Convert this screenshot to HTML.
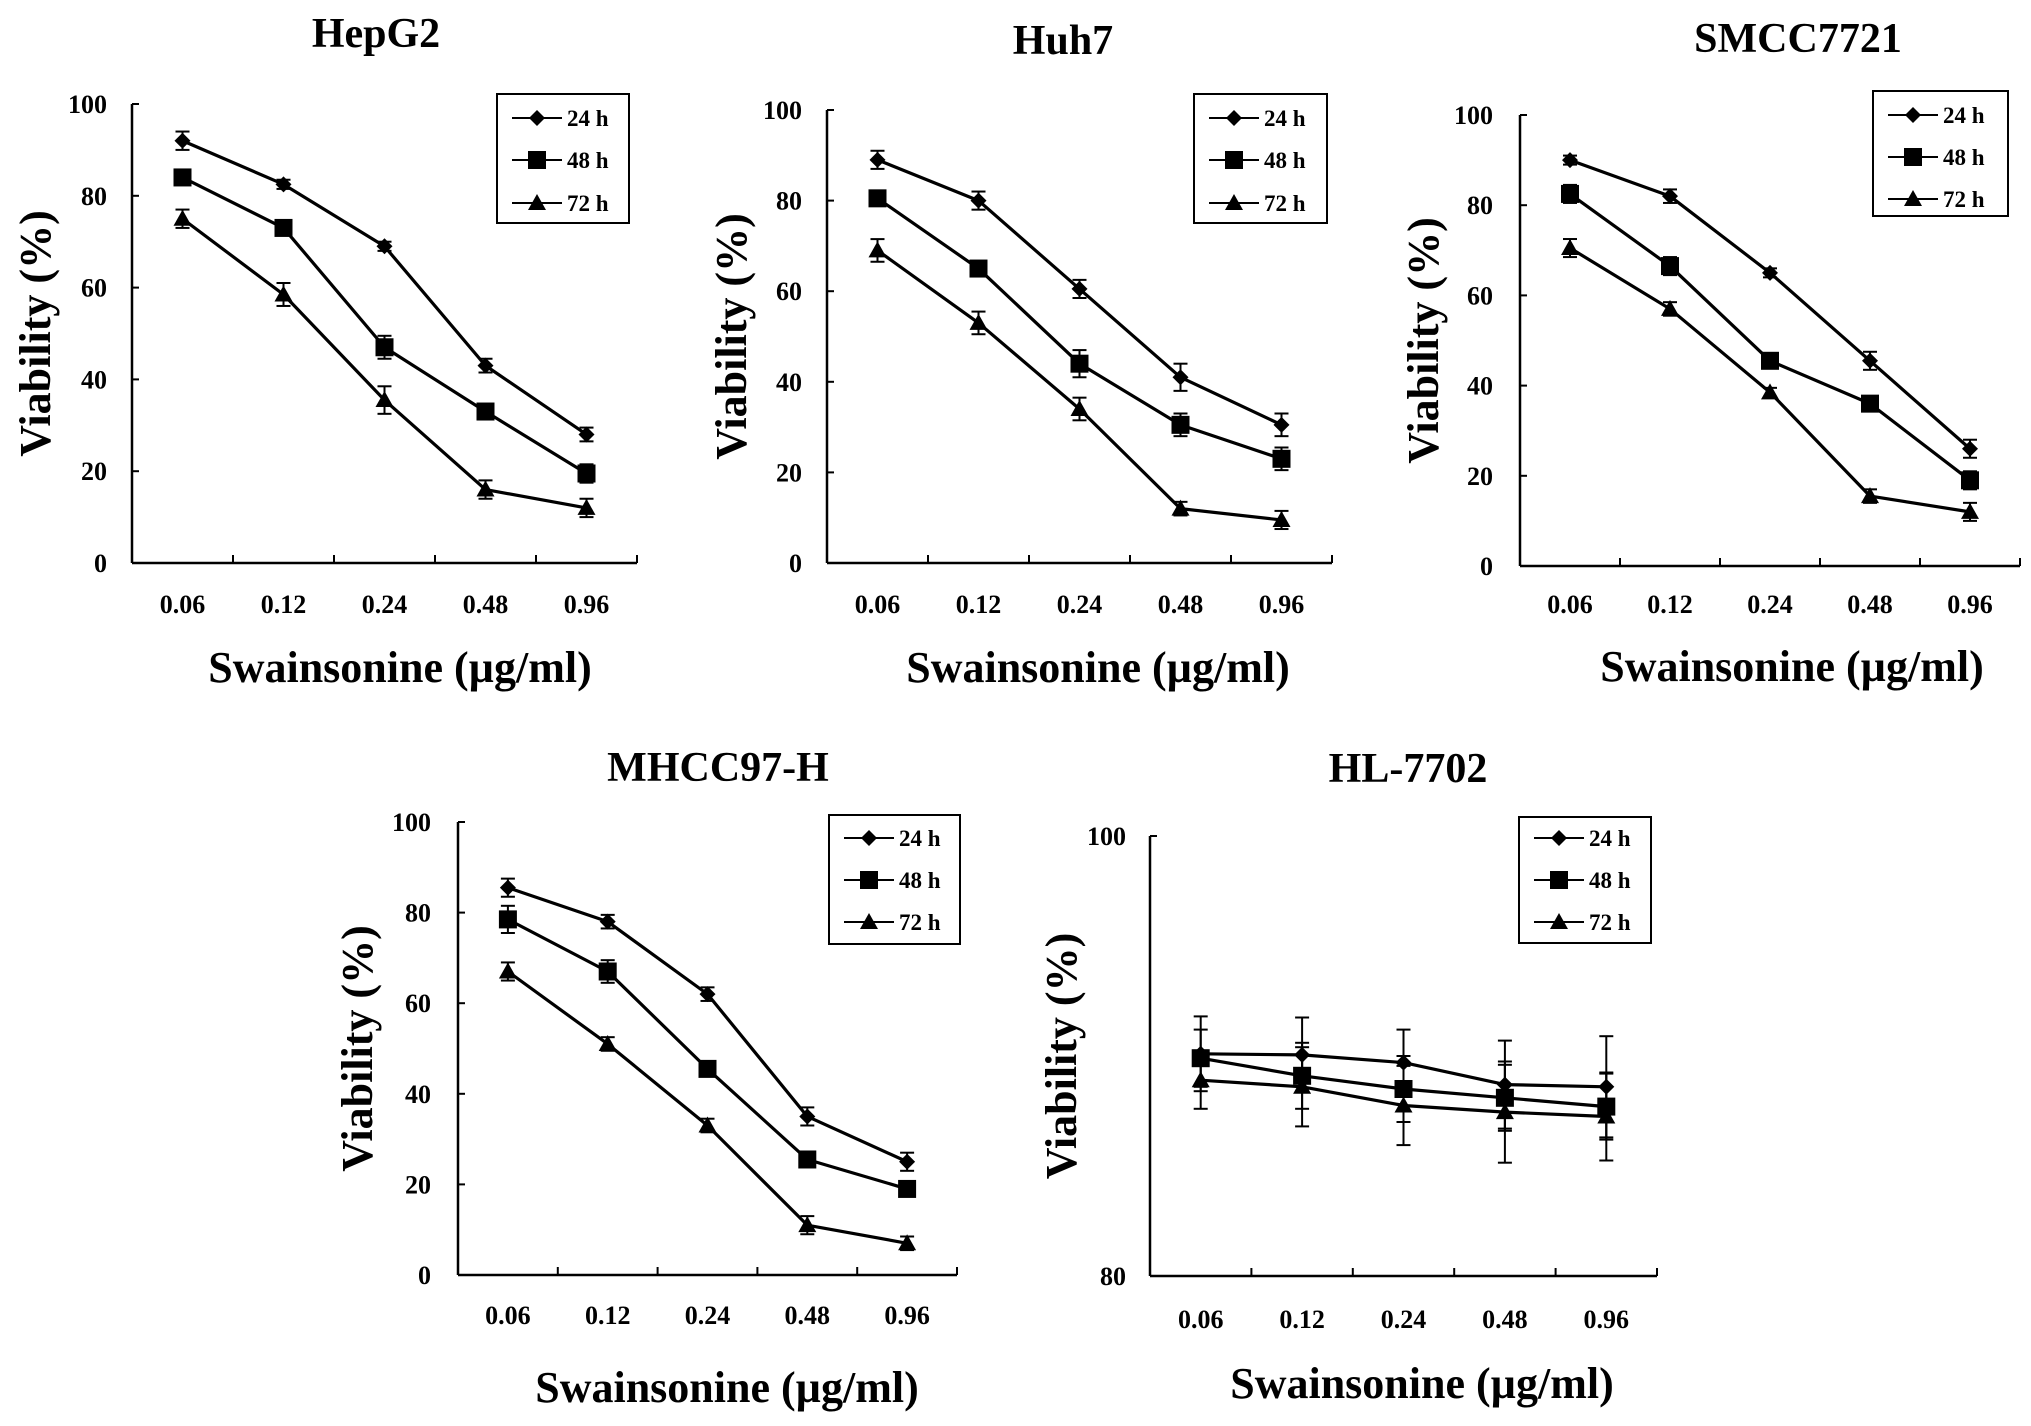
<!DOCTYPE html>
<html><head><meta charset="utf-8"><style>
html,body{margin:0;padding:0;background:#fff;}
svg{display:block;font-family:"Liberation Serif",serif;font-weight:bold;}
</style></head><body>
<svg id="fig" width="2031" height="1426" viewBox="0 0 2031 1426" xmlns="http://www.w3.org/2000/svg"></svg>
<script>
const categories = ["0.06","0.12","0.24","0.48","0.96"];
const seriesNames = ["24 h","48 h","72 h"];
const hepg2_24 = [92, 82.5, 69, 43, 28];
const hepg2_48 = [84, 73, 47, 33, 19.5];
const hepg2_72 = [75, 58.5, 35.5, 16, 12];
const hepg2_err24 = [2, 1, 1, 1.5, 1.5];
const hepg2_err48 = [1, 1, 2.5, 1, 2];
const hepg2_err72 = [2, 2.5, 3, 2, 2];
const huh7_24 = [89, 80, 60.5, 41, 30.5];
const huh7_48 = [80.5, 65, 44, 30.5, 23];
const huh7_72 = [69, 53, 34, 12, 9.5];
const huh7_err24 = [2, 2, 2, 3, 2.5];
const huh7_err48 = [1, 1, 3, 2.5, 2.5];
const huh7_err72 = [2.5, 2.5, 2.5, 1.5, 2];
const smcc_24 = [90, 82, 65, 45.5, 26];
const smcc_48 = [82.5, 66.5, 45.5, 36, 19];
const smcc_72 = [70.5, 57, 38.5, 15.5, 12];
const smcc_err24 = [1, 1.5, 1, 2, 2];
const smcc_err48 = [2, 2, 1.5, 1.5, 2];
const smcc_err72 = [2, 1.5, 1, 1.5, 2];
const mhcc_24 = [85.5, 78, 62, 35, 25];
const mhcc_48 = [78.5, 67, 45.5, 25.5, 19];
const mhcc_72 = [67, 51, 33, 11, 7];
const mhcc_err24 = [2, 1.5, 1.5, 2, 2];
const mhcc_err48 = [3, 2.5, 1, 1, 1.5];
const mhcc_err72 = [2, 1.5, 1.5, 2, 1.5];
const hl_24 = [90.1, 90.05, 89.7, 88.7, 88.6];
const hl_48 = [89.9, 89.1, 88.5, 88.1, 87.7];
const hl_72 = [88.9, 88.6, 87.75, 87.45, 87.25];
const hl_err24 = [1.7, 1.7, 1.5, 2.0, 2.3];
const hl_err48 = [1.3, 1.5, 1.5, 1.5, 1.5];
const hl_err72 = [1.3, 1.8, 1.8, 2.3, 2.0];
const ticks0to100 = [0, 20, 40, 60, 80, 100];
const ticks80to100 = [80, 100];

const panels = [
 {name:"hepg2",title:"HepG2",ax:132,ay0:563,ay1:104,axe:637,ymin:0,ymax:100,ticks:ticks0to100,tx:376,ty:47,lg:[497,94,132,129],le:[118,160,203],tickR:107,xlb:613,atb:682,atx:400,ytx:35,data:[hepg2_24,hepg2_48,hepg2_72],err:[hepg2_err24,hepg2_err48,hepg2_err72]},
 {name:"huh7",title:"Huh7",ax:827,ay0:563,ay1:110,axe:1332,ymin:0,ymax:100,ticks:ticks0to100,tx:1063,ty:54,lg:[1194,94,133,129],le:[118,160,203],tickR:802,xlb:613,atb:682,atx:1098,ytx:731,data:[huh7_24,huh7_48,huh7_72],err:[huh7_err24,huh7_err48,huh7_err72]},
 {name:"smcc7721",title:"SMCC7721",ax:1520,ay0:566,ay1:115,axe:2020,ymin:0,ymax:100,ticks:ticks0to100,tx:1798,ty:52,lg:[1873,91,135,125],le:[115,157,199],tickR:1493,xlb:613,atb:681,atx:1792,ytx:1423,data:[smcc_24,smcc_48,smcc_72],err:[smcc_err24,smcc_err48,smcc_err72]},
 {name:"mhcc97h",title:"MHCC97-H",ax:458,ay0:1275,ay1:822,axe:957,ymin:0,ymax:100,ticks:ticks0to100,tx:718,ty:781,lg:[829,815,131,129],le:[838,880,922],tickR:431,xlb:1324,atb:1402,atx:727,ytx:357,data:[mhcc_24,mhcc_48,mhcc_72],err:[mhcc_err24,mhcc_err48,mhcc_err72]},
 {name:"hl7702",title:"HL-7702",ax:1150,ay0:1276,ay1:836,axe:1657,ymin:80,ymax:100,ticks:ticks80to100,tx:1408,ty:782,lg:[1519,817,132,126],le:[838,880,922],tickR:1126,xlb:1328,atb:1398,atx:1422,ytx:1061,data:[hl_24,hl_48,hl_72],err:[hl_err24,hl_err48,hl_err72]}
];

const svg = document.getElementById('fig');
const NS = "http://www.w3.org/2000/svg";
function mk(tag, attrs, parent){
  const e = document.createElementNS(NS, tag);
  for (const k in attrs) e.setAttribute(k, attrs[k]);
  parent.appendChild(e);
  return e;
}
function marker(kind, x, y, parent){
  let m;
  if (kind === 0){
    m = mk('polygon',{points:`${x},${y-8} ${x+8},${y} ${x},${y+8} ${x-8},${y}`,fill:'#000'},parent);
  } else if (kind === 1){
    m = mk('rect',{x:x-9,y:y-9,width:18,height:18,fill:'#000'},parent);
  } else {
    m = mk('polygon',{points:`${x},${y-9} ${x+9},${y+7} ${x-9},${y+7}`,fill:'#000'},parent);
  }
  return m;
}

panels.forEach(p => {
  const g = mk('g',{},svg);
  
  
  const yS = v => p.ay0 - (v - p.ymin) / (p.ymax - p.ymin) * (p.ay0 - p.ay1);
  const bw = (p.axe - p.ax) / categories.length;
  const xS = i => p.ax + bw * (i + 0.5);

  const t = mk('text',{x:p.tx,y:p.ty,'text-anchor':'middle','font-size':42},g);
  t.textContent = p.title;
  
  

  const yax = mk('line',{x1:p.ax,y1:p.ay1,x2:p.ax,y2:p.ay0,stroke:'#000','stroke-width':2.5},g);
  
  
  const xax = mk('line',{x1:p.ax,y1:p.ay0,x2:p.axe,y2:p.ay0,stroke:'#000','stroke-width':2.5},g);
  
  

  p.ticks.forEach(v => {
    const y = yS(v);
    mk('line',{x1:p.ax,y1:y,x2:p.ax+7,y2:y,stroke:'#000','stroke-width':2},g);
    const tl = mk('text',{x:p.tickR,y:y+9,'text-anchor':'end','font-size':26},g);
    tl.textContent = v;
    
    
  });
  for (let i = 1; i <= categories.length; i++){
    const x = p.ax + bw * i;
    mk('line',{x1:x,y1:p.ay0,x2:x,y2:p.ay0-8,stroke:'#000','stroke-width':2},g);
  }
  categories.forEach((c,i) => {
    const tl = mk('text',{x:xS(i),y:p.xlb,'text-anchor':'middle','font-size':26},g);
    tl.textContent = c;
    
    
  });
  const xt = mk('text',{x:p.atx,y:p.atb,'text-anchor':'middle','font-size':44},g);
  xt.textContent = 'Swainsonine (µg/ml)';
  
  
  const ymid = (p.ay0 + p.ay1) / 2;
  const yt = mk('text',{x:p.ytx,y:ymid,'text-anchor':'middle','font-size':44,transform:`rotate(-90 ${p.ytx} ${ymid}) translate(0 15)`},g);
  yt.textContent = 'Viability (%)';
  
  

  p.data.forEach((vals, s) => {
    const sg = mk('g',{},g);
    
    
    const pts = vals.map((v,i) => `${xS(i)},${yS(v)}`).join(' ');
    mk('polyline',{points:pts,fill:'none',stroke:'#000','stroke-width':3.2,'stroke-linejoin':'round'},sg);
    vals.forEach((v,i) => {
      const x = xS(i), e = p.err[s][i];
      const yt1 = yS(v + e), yb = yS(v - e);
      mk('line',{x1:x,y1:yt1,x2:x,y2:yb,stroke:'#000','stroke-width':2},sg);
      mk('line',{x1:x-7,y1:yt1,x2:x+7,y2:yt1,stroke:'#000','stroke-width':2},sg);
      mk('line',{x1:x-7,y1:yb,x2:x+7,y2:yb,stroke:'#000','stroke-width':2},sg);
      const m = marker(s, x, yS(v), sg);
      
      
    });
  });

  const [lx, ly, lw, lh] = p.lg;
  const lgG = mk('g',{},g);
  
  
  mk('rect',{x:lx,y:ly,width:lw,height:lh,fill:'#fff',stroke:'#000','stroke-width':2},lgG);
  seriesNames.forEach((n,s) => {
    const y = p.le[s];
    const eg = mk('g',{},lgG);
    
    
    mk('line',{x1:lx+15,y1:y,x2:lx+65,y2:y,stroke:'#000','stroke-width':2},eg);
    marker(s, lx+40, y, eg);
    const tl = mk('text',{x:lx+70,y:y+8,'font-size':23},eg);
    tl.textContent = n;
  });
});
</script>
</body></html>
